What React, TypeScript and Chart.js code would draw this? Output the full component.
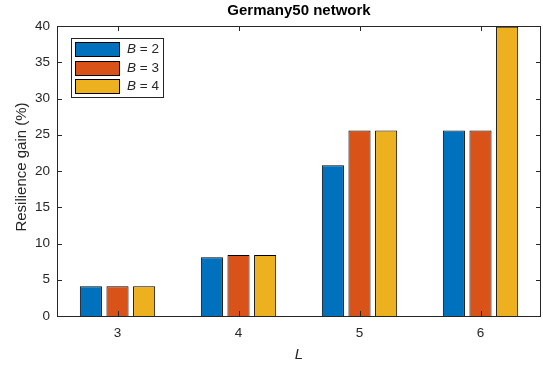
import React, { useEffect, useRef } from "react";
import { Chart, registerables } from "chart.js";

Chart.register(...registerables);

const categories = ["3", "4", "5", "6"];
const seriesB2 = [4.1, 8.1, 20.8, 25.6];
const seriesB3 = [4.1, 8.4, 25.6, 25.6];
const seriesB4 = [4.1, 8.4, 25.6, 39.9];
const seriesNames = ["2", "3", "4"];
const colors = ["#0072BD", "#D95319", "#EDB120"];
const yTicks = [0, 5, 10, 15, 20, 25, 30, 35, 40];

const FONT = "'Liberation Sans', Arial, sans-serif";
const AX = "#262626";

const decorPlugin = {
  id: "decor",
  afterDraw(chart: any) {
    const { ctx, chartArea: a, scales } = chart;
    ctx.save();
    // box
    ctx.strokeStyle = AX;
    ctx.lineWidth = 1;
    ctx.beginPath();
    ctx.rect(Math.round(a.left) + 0.5, Math.round(a.top) + 0.5, Math.round(a.right - a.left) - 1, Math.round(a.bottom - a.top));
    ctx.stroke();
    // ticks
    const tl = 5;
    ctx.beginPath();
    yTicks.forEach((v) => {
      const y = Math.round(scales.y.getPixelForValue(v)) + 0.5;
      ctx.moveTo(a.left, y);
      ctx.lineTo(a.left + tl, y);
      ctx.moveTo(a.right, y);
      ctx.lineTo(a.right - tl, y);
    });
    categories.forEach((_, i) => {
      const x = Math.round(scales.x.getPixelForValue(i)) + 0.5;
      ctx.moveTo(x, a.bottom);
      ctx.lineTo(x, a.bottom - tl);
      ctx.moveTo(x, a.top);
      ctx.lineTo(x, a.top + tl);
    });
    ctx.stroke();
    // title
    ctx.fillStyle = "#000";
    ctx.font = `bold 15px ${FONT}`;
    ctx.textAlign = "center";
    ctx.textBaseline = "middle";
    ctx.fillText("Germany50 network", (a.left + a.right) / 2, 11);
    // x label
    ctx.fillStyle = AX;
    ctx.font = `italic 15px ${FONT}`;
    ctx.fillText("L", (a.left + a.right) / 2, 355);
    // y label
    ctx.save();
    ctx.translate(22, (a.top + a.bottom) / 2 - 4);
    ctx.rotate(-Math.PI / 2);
    ctx.font = `15px ${FONT}`;
    ctx.fillText("Resilience gain (%)", 0, 0);
    ctx.restore();
    // legend
    const lx = 71.5, ly = 38.5, lw = 92, lh = 59;
    ctx.fillStyle = "#fff";
    ctx.fillRect(lx, ly, lw, lh);
    ctx.strokeStyle = AX;
    ctx.strokeRect(lx, ly, lw, lh);
    seriesNames.forEach((n, i) => {
      const sy = 42 + i * 18.5;
      ctx.fillStyle = colors[i];
      ctx.fillRect(75.5, Math.round(sy) + 0.5, 44, 14);
      ctx.strokeStyle = "#000";
      ctx.strokeRect(75.5, Math.round(sy) + 0.5, 44, 14);
      ctx.fillStyle = AX;
      ctx.textAlign = "left";
      ctx.font = `italic 13.5px ${FONT}`;
      const cy = Math.round(sy) + 7.5;
      ctx.fillText("B", 127, cy);
      const w = ctx.measureText("B").width;
      ctx.font = `13.5px ${FONT}`;
      ctx.fillText(" = " + n, 127 + w, cy);
    });
    ctx.restore();
  },
};

export default function App() {
  const ref = useRef<HTMLCanvasElement>(null);
  useEffect(() => {
    document.body.style.margin = "0";
    const chart = new Chart(ref.current!, {
      type: "bar",
      data: {
        labels: categories,
        datasets: [seriesB2, seriesB3, seriesB4].map((d, i) => ({
          label: "B = " + seriesNames[i],
          data: d,
          backgroundColor: colors[i],
          borderColor: "#000",
          borderWidth: 1,
          categoryPercentage: 0.66,
          barPercentage: 0.83,
        })),
      },
      options: {
        animation: false,
        responsive: false,
        layout: { padding: { top: 26, right: 2, left: 0, bottom: 0 } },
        plugins: { legend: { display: false }, title: { display: false }, tooltip: { enabled: false } },
        scales: {
          x: {
            offset: true,
            grid: { display: false, drawTicks: false },
            border: { display: false },
            ticks: { color: AX, font: { family: FONT, size: 13.5 }, padding: 9 },
            afterFit: (s: any) => { s.height = 49; },
          },
          y: {
            min: 0,
            max: 40,
            grid: { display: false, drawTicks: false },
            border: { display: false },
            ticks: { stepSize: 5, color: AX, font: { family: FONT, size: 13.5 }, padding: 7 },
            afterFit: (s: any) => { s.width = 57; },
          },
        },
      },
      plugins: [decorPlugin],
    });
    return () => chart.destroy();
  }, []);
  return (
    <div style={{ position: "absolute", left: 0, top: 0, width: 543, height: 365 }}>
      <canvas ref={ref} width={543} height={365} style={{ width: 543, height: 365 }} />
    </div>
  );
}
